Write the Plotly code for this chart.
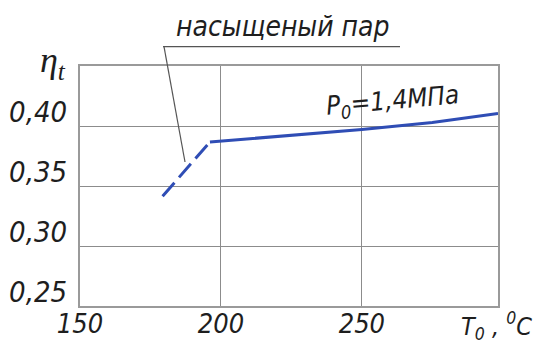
import plotly.graph_objects as go

# Thermal efficiency vs. initial steam temperature at P0 = 1.4 MPa
sat_T = [179.3, 196.1]          # saturated steam branch, °C
sat_eta = [0.3415, 0.3867]
sup_T = [196.1, 210, 230, 250, 275, 298.3]   # superheated branch, °C
sup_eta = [0.3867, 0.3895, 0.393, 0.397, 0.403, 0.4105]

x_ticks = [150, 200, 250]
y_ticks = [0.25, 0.30, 0.35, 0.40]
y_ticktext = ["0,25", "0,30", "0,35", "0,40"]

FONT = "DejaVu Sans Condensed, DejaVu Sans, sans-serif"
INK = "#1e1e1e"
BLUE = "#2f4db5"
GRID = "#8c8c8c"

# plot-area geometry in pixels (used to place the free-floating texts)
L, R, T, B = 80, 498, 66, 306
W, H = R - L, B - T


def px(x):
    return (x - L) / W


def py(y):
    return (B - y) / H


def label(x, y, text, size, family=FONT, angle=0):
    fig.add_annotation(xref="paper", yref="paper", x=px(x), y=py(y),
                       xanchor="center", yanchor="middle",
                       showarrow=False, textangle=angle, text=text,
                       font=dict(family=family, size=size, style="italic",
                                 color=INK))


fig = go.Figure()
fig.add_trace(go.Scatter(x=sat_T, y=sat_eta, mode="lines",
                         line=dict(color=BLUE, width=3, dash="18px,7px"),
                         showlegend=False, hoverinfo="skip"))
fig.add_trace(go.Scatter(x=sup_T, y=sup_eta, mode="lines",
                         line=dict(color=BLUE, width=3),
                         showlegend=False, hoverinfo="skip"))

fig.update_layout(
    width=538, height=343,
    margin=dict(l=L, r=538 - R, t=T, b=343 - B, autoexpand=False),
    paper_bgcolor="white", plot_bgcolor="white",
    font=dict(family=FONT, color=INK),
    xaxis=dict(range=[150, 298.3], tickvals=x_ticks, ticks="",
               automargin=False,
               showgrid=True, gridcolor=GRID, gridwidth=1.2,
               showline=True, linecolor="#9a9a9a", linewidth=2, mirror=True,
               zeroline=False, ticklabelstandoff=-7,
               tickfont=dict(family=FONT, size=27, style="italic", color=INK)),
    yaxis=dict(range=[0.25, 0.45], tickvals=y_ticks, ticktext=y_ticktext,
               ticks="", automargin=False,
               showgrid=True, gridcolor=GRID, gridwidth=1.2,
               showline=True, linecolor="#9a9a9a", linewidth=2, mirror=True,
               zeroline=False, ticklabelshift=-14, ticklabelstandoff=5,
               tickfont=dict(family=FONT, size=29, style="italic", color=INK)),
)

# white patch behind the curve label, hiding the grid there
fig.add_shape(type="rect", xref="paper", yref="paper", layer="between",
              x0=px(323), x1=px(363), y0=py(126), y1=py(82),
              fillcolor="white", line=dict(width=0))

# curve label
label(392, 101, "P<sub>0</sub>=1,4МПа", 26, angle=-5)

# saturated steam callout with underline and leader
label(283, 27, "насыщеный пар", 28)
fig.add_shape(type="line", xref="paper", yref="paper",
              x0=px(163), x1=px(400), y0=py(46.7), y1=py(46.7),
              line=dict(color="#555555", width=1.2))
fig.add_shape(type="line", xref="paper", yref="paper",
              x0=px(164), y0=py(46.7), x1=px(185), y1=py(162),
              line=dict(color="#555555", width=1.2))

# axis titles
label(53, 62, "η<sub>t</sub>", 36, family="Liberation Serif, DejaVu Serif, serif")
label(496, 326, "T<sub>0</sub> , <sup>0</sup>C", 25)

fig.write_html("out.html")
